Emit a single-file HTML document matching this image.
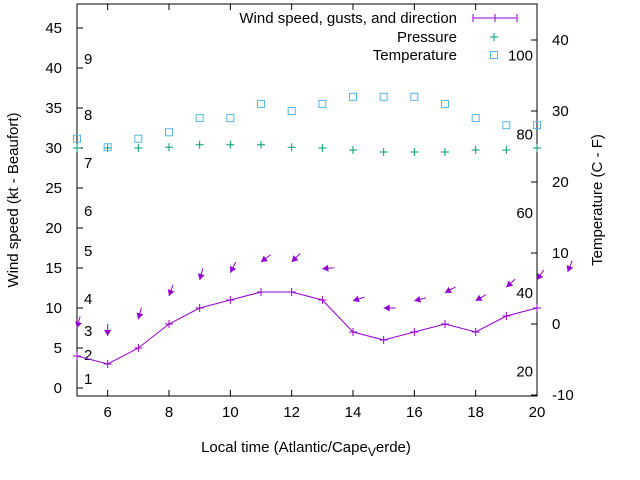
<!DOCTYPE html>
<html><head><meta charset="utf-8"><style>
html,body{margin:0;padding:0;background:#fff}
svg{display:block;font-family:"Liberation Sans",sans-serif}
</style></head><body>
<svg id="c" width="640" height="480" viewBox="0 0 640 480"></svg>
<script>
const hours=[5,6,7,8,9,10,11,12,13,14,15,16,17,18,19,20];
const windSpeed=[4,3,5,8,10,11,12,12,11,7,6,7,8,7,9,10];
const gustHours=[5,6,7,8,9,10,11,12,13,14,15,16,17,18,19,20,21];
const gustSpeed=[7.5,6.5,8.6,11.5,13.5,14.4,15.75,15.75,14.9,10.9,10,10.9,11.9,10.9,12.6,13.5,14.5];
const arrowDir=[195,180,195,200,195,207,233,225,265,252,270,256,241,239,228,214,202];
const pressure=[30,30,30,30.1,30.4,30.4,30.4,30.1,30,29.75,29.5,29.5,29.5,29.75,29.75,30];
const temperature=[26.1,24.9,26.1,27,29,29,31,30,31,32,32,32,31,29,28,28];
const leftTicks=[0,5,10,15,20,25,30,35,40,45];
const rightTicks=[-10,0,10,20,30,40];
const xTicks=[6,8,10,12,14,16,18,20];
const beaufortLabels=["1","2","3","4","5","6","7","8","9"];
const beaufortY=[1.1,4.1,7.1,11.1,17.1,22.1,28.1,34.1,41.1];
const fahrLabels=["20","40","60","80","100"];
const fahrC=[-6.7,4.4,15.6,26.7,37.8];

const svg=document.getElementById('c');
const NS='http://www.w3.org/2000/svg';
const L=77,R=537,T=4,B=396;
const X=v=>L+(v-5)*(R-L)/15;
const Y=v=>388-v*8;
const YR=v=>324-v*7.1;
function el(tag,attrs,parent){const e=document.createElementNS(NS,tag);for(const k in attrs)e.setAttribute(k,attrs[k]);(parent||svg).appendChild(e);return e;}
function txt(x,y,s,anchor,size){const t=el('text',{x:x,y:y,'font-size':size||15,'text-anchor':anchor||'start',fill:'#000'});t.textContent=s;return t;}

// frame
const frame=el('rect',{x:L,y:T,width:R-L,height:B-T,fill:'none',stroke:'#000','stroke-width':1});



leftTicks.forEach(v=>{
  el('line',{x1:L,x2:L+6,y1:Y(v),y2:Y(v),stroke:'#000'});
  const t=txt(62,Y(v)+5,String(v),'end');
  
  
});
rightTicks.forEach(v=>{
  el('line',{x1:R-6,x2:R,y1:YR(v),y2:YR(v),stroke:'#000'});
  const t=txt(552,YR(v)+5,String(v),'start');
  
  
});
xTicks.forEach(v=>{
  el('line',{x1:X(v),x2:X(v),y1:B,y2:B-6,stroke:'#000'});
  el('line',{x1:X(v),x2:X(v),y1:T,y2:T+6,stroke:'#000'});
  const t=txt(X(v),B+21,String(v),'middle');
  
  
});
beaufortLabels.forEach((s,i)=>{
  const t=txt(84,Y(beaufortY[i])+5,s,'start');
  
  
});
fahrLabels.forEach((s,i)=>{
  const t=txt(533,YR(fahrC[i])+5,s,'end');
  
  
});

// axis titles
let t=txt(0,0,'Wind speed (kt - Beaufort)','middle');
t.setAttribute('transform','translate(18,200) rotate(-90)');


t=txt(0,0,'Temperature (C - F)','middle');
t.setAttribute('transform','translate(602,200) rotate(-90)');


t=txt(306,452,'Local time (Atlantic/Cape','middle');


const sub=el('tspan',{'font-size':12,dy:4});sub.textContent='V';
const rest=el('tspan',{dy:-4},t);rest.textContent='erde)';
t.insertBefore(sub,rest);

const purple='#9400d3',green='#009e73',blue='#56b4e9';
// wind line
const wl=el('polyline',{points:hours.map((h,i)=>X(h)+','+Y(windSpeed[i])).join(' '),fill:'none',stroke:purple,'stroke-width':1});


function plus(x,y,c,n){const g=el('path',{d:`M${x-4},${y}h8M${x},${y-4}v8`,stroke:c,'stroke-width':1,fill:'none'});}
hours.forEach((h,i)=>plus(X(h),Y(windSpeed[i]),purple,'wind-point'));

// gust arrows
gustHours.forEach((h,i)=>{
  const a=arrowDir[i]*Math.PI/180;
  const hx=X(h),hy=Y(gustSpeed[i]);
  const ux=Math.sin(a),uy=-Math.cos(a);
  const tx=hx-ux*12,ty=hy-uy*12;
  const px=-uy,py=ux;
  const g=el('g',{});
  
  
  el('line',{x1:tx,y1:ty,x2:hx,y2:hy,stroke:purple,'stroke-width':1},g);
  const bx=hx-ux*6,by=hy-uy*6;
  el('polygon',{points:`${hx},${hy} ${bx+px*3.5},${by+py*3.5} ${bx-px*3.5},${by-py*3.5}`,fill:purple},g);
});

hours.forEach((h,i)=>plus(X(h),Y(pressure[i]),green,'pressure-point'));
hours.forEach((h,i)=>{
  const r=el('rect',{x:X(h)-3.5,y:YR(temperature[i])-3.5,width:7,height:7,fill:'none',stroke:blue,'stroke-width':1});
  
  
});

// legend
t=txt(457,23,'Wind speed, gusts, and direction','end');

el('path',{d:'M473,18h44M473,14v8M517,14v8M495,14v8',stroke:purple,fill:'none'});
t=txt(457,42,'Pressure','end');

plus(494,37,green,'legend-pressure-marker');
t=txt(457,60,'Temperature','end');

el('rect',{x:490.5,y:51.5,width:7,height:7,fill:'none',stroke:blue});
</script>
</body></html>
